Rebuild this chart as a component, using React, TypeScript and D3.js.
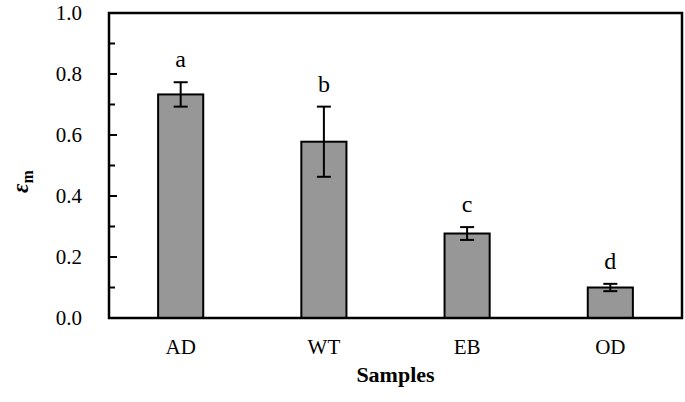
import * as React from "react";
import * as d3 from "d3";

const samples = ["AD", "WT", "EB", "OD"];
const means = [0.733, 0.578, 0.277, 0.1];
const errors = [0.04, 0.115, 0.021, 0.012];
const letters = ["a", "b", "c", "d"];
const yTicks = [0, 0.2, 0.4, 0.6, 0.8, 1.0];
const yMinorTicks = [0.1, 0.3, 0.5, 0.7, 0.9];

const W = 685;
const H = 402;
const margin = { top: 13, right: 3, bottom: 84, left: 109 };
const width = W - margin.left - margin.right;
const height = H - margin.top - margin.bottom;
const FONT = "Liberation Serif";

const App = () => {
  const x = d3.scaleBand().domain(samples).range([0, width]).paddingInner(0.685).paddingOuter(0.343);
  const y = d3.scaleLinear().domain([0, 1]).range([height, 0]);
  const fmt = d3.format(".1f");
  const cap = 7;

  return (
    <svg
      width={W}
      height={H}
      style={{ position: "absolute", left: 0, top: 0, fontFamily: FONT }}
    >
      <g transform={`translate(${margin.left},${margin.top})`}>
        {samples.map((s, i) => (
          <rect
            key={s}
            x={x(s)}
            width={x.bandwidth()}
            y={y(means[i])}
            height={height - y(means[i])}
            fill="#979797"
            stroke="#000"
            strokeWidth={2}
          />
        ))}

        {samples.map((s, i) => {
          const cx = x(s)! + x.bandwidth() / 2;
          const hi = y(means[i] + errors[i]);
          const lo = y(means[i] - errors[i]);
          return (
            <g key={s}>
              <g stroke="#000" strokeWidth={2}>
                <line x1={cx} x2={cx} y1={hi} y2={lo} />
                <line x1={cx - cap} x2={cx + cap} y1={hi} y2={hi} />
                <line x1={cx - cap} x2={cx + cap} y1={lo} y2={lo} />
              </g>
              <text x={cx} y={hi - 15} textAnchor="middle" fontSize={24} style={{ fontFamily: FONT }}>
                {letters[i]}
              </text>
            </g>
          );
        })}

        {yTicks.map((t) => (
          <line key={"M" + t} x1={0} x2={8} y1={y(t)} y2={y(t)} stroke="#000" strokeWidth={2} />
        ))}
        {yMinorTicks.map((t) => (
          <line key={"m" + t} x1={0} x2={6} y1={y(t)} y2={y(t)} stroke="#000" strokeWidth={2} />
        ))}
        {yTicks.map((t) => (
          <text
            key={"t" + t}
            x={-27}
            y={y(t)}
            dy="0.35em"
            textAnchor="end"
            fontSize={21}
            style={{ fontFamily: FONT }}
          >
            {fmt(t)}
          </text>
        ))}

        {samples.map((s) => (
          <text
            key={"x" + s}
            x={x(s)! + x.bandwidth() / 2}
            y={height + 36}
            textAnchor="middle"
            fontSize={21}
            style={{ fontFamily: FONT }}
          >
            {s}
          </text>
        ))}

        <rect x={0} y={0} width={width} height={height} fill="none" stroke="#000" strokeWidth={2.5} />
      </g>

      <text
        x={margin.left + width / 2}
        y={382}
        textAnchor="middle"
        fontSize={22}
        fontWeight="bold"
        style={{ fontFamily: FONT }}
      >
        Samples
      </text>

      <text
        transform={`translate(28,${margin.top + height / 2 + 16}) rotate(-90)`}
        textAnchor="middle"
        fontSize={23}
        fontWeight="bold"
        style={{ fontFamily: FONT }}
      >
        <tspan fontStyle="italic">ε</tspan>
        <tspan dy={5} fontSize={16}>m</tspan>
      </text>
    </svg>
  );
};

export default App;
